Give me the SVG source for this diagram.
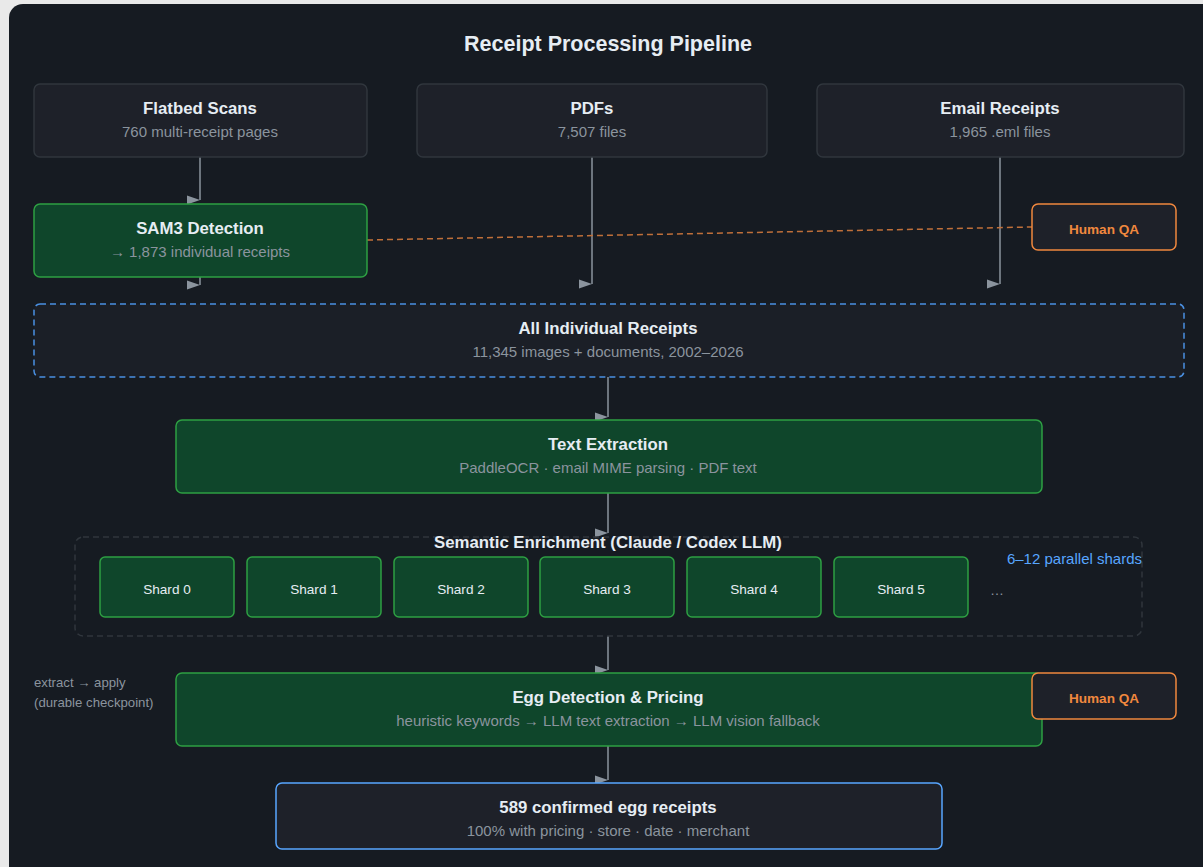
<svg xmlns="http://www.w3.org/2000/svg" width="1203" height="867" viewBox="0 0 1203 867">
<defs>
<style>
.t{font-family:"Liberation Sans",Arial,sans-serif;font-weight:bold;font-size:16.8px;fill:#e6edf3;text-anchor:middle}
.s{font-family:"Liberation Sans",Arial,sans-serif;font-size:15px;fill:#8b949e;text-anchor:middle}
.n{fill:#1e2129;stroke:#30363d;stroke-width:1.5}
.g{fill:#0f462b;stroke:#2ea043;stroke-width:1.5}
.qa{fill:#1e2129;stroke:#f0883e;stroke-width:1.5}
.qt{font-family:"Liberation Sans",Arial,sans-serif;font-weight:bold;font-size:13.6px;fill:#f0883e;text-anchor:middle}
.sh{font-family:"Liberation Sans",Arial,sans-serif;font-size:13.6px;fill:#e6edf3;text-anchor:middle}
.c{stroke:#8b949e;stroke-width:1.5;fill:none;marker-end:url(#ah)}
</style>
<marker id="ah" markerUnits="userSpaceOnUse" markerWidth="14" markerHeight="10" viewBox="0 0 14 10" refX="13" refY="5" orient="0">
<path d="M0,0.5 L13,5 L0,9.5 z" fill="#8b949e"/>
</marker>
</defs>
<rect x="0" y="0" width="1203" height="867" fill="#e9e9e9"/>
<rect x="9" y="4" width="1220" height="890" rx="14" fill="#161b22"/>
<text class="t" x="608" y="51" style="font-size:21.5px">Receipt Processing Pipeline</text>

<g id="connectors">
<line class="c" x1="200" y1="157" x2="200" y2="200"/>
<line class="c" x1="200" y1="277" x2="200" y2="285"/>
<line class="c" x1="592" y1="157" x2="592" y2="284"/>
<line class="c" x1="1000" y1="157" x2="1000" y2="284"/>
<line class="c" x1="608" y1="377" x2="608" y2="417"/>
<line class="c" x1="608" y1="493" x2="608" y2="533"/>
<line class="c" x1="608" y1="636" x2="608" y2="670"/>
<line class="c" x1="608" y1="746" x2="608" y2="780"/>
<line x1="367" y1="240" x2="1032" y2="227" stroke="#c0703a" stroke-width="1.5" stroke-dasharray="6,4"/>
<line x1="1034" y1="703" x2="1041" y2="710" stroke="#c0703a" stroke-width="1.5" stroke-dasharray="3,2"/>
</g>

<g id="flatbed">
<rect class="n" x="34" y="84" width="333" height="73" rx="6"/>
<text class="t" x="200" y="114">Flatbed Scans</text>
<text class="s" x="200" y="137">760 multi-receipt pages</text>
</g>
<g id="pdfs">
<rect class="n" x="417" y="84" width="350" height="73" rx="6"/>
<text class="t" x="592" y="114">PDFs</text>
<text class="s" x="592" y="137">7,507 files</text>
</g>
<g id="email">
<rect class="n" x="817" y="84" width="367" height="73" rx="6"/>
<text class="t" x="1000" y="114">Email Receipts</text>
<text class="s" x="1000" y="137">1,965 .eml files</text>
</g>
<g id="sam3">
<rect class="g" x="34" y="204" width="333" height="73" rx="6"/>
<text class="t" x="200" y="234">SAM3 Detection</text>
<text class="s" x="200" y="257">→ 1,873 individual receipts</text>
</g>
<g id="qa1">
<rect class="qa" x="1032" y="204" width="144" height="46" rx="6"/>
<text class="qt" x="1104" y="234">Human QA</text>
</g>
<g id="all">
<rect x="34" y="304" width="1150" height="73" rx="6" fill="#1b1f27" stroke="#4a90e2" stroke-width="1.5" stroke-dasharray="6,4"/>
<text class="t" x="608" y="334">All Individual Receipts</text>
<text class="s" x="608" y="357">11,345 images + documents, 2002–2026</text>
</g>
<g id="textext">
<rect class="g" x="176" y="420" width="866" height="73" rx="6"/>
<text class="t" x="608" y="450">Text Extraction</text>
<text class="s" x="608" y="473">PaddleOCR · email MIME parsing · PDF text</text>
</g>
<g id="semantic">
<rect x="75" y="537" width="1067" height="99" rx="8" fill="none" stroke="#30363d" stroke-width="1.5" stroke-dasharray="6,4"/>
<text class="t" x="608" y="548">Semantic Enrichment (Claude / Codex LLM)</text>
<text x="1142" y="564" style="font-family:'Liberation Sans',Arial,sans-serif;font-size:15px;fill:#58a6ff;text-anchor:end">6–12 parallel shards</text>
<text x="997" y="595" style="font-family:'Liberation Sans',Arial,sans-serif;font-size:14px;fill:#8b949e;text-anchor:middle">…</text>
</g>
<g id="shard0"><rect class="g" x="100" y="557" width="134" height="60" rx="5"/><text class="sh" x="167" y="594">Shard 0</text></g>
<g id="shard1"><rect class="g" x="247" y="557" width="134" height="60" rx="5"/><text class="sh" x="314" y="594">Shard 1</text></g>
<g id="shard2"><rect class="g" x="394" y="557" width="134" height="60" rx="5"/><text class="sh" x="461" y="594">Shard 2</text></g>
<g id="shard3"><rect class="g" x="540" y="557" width="134" height="60" rx="5"/><text class="sh" x="607" y="594">Shard 3</text></g>
<g id="shard4"><rect class="g" x="687" y="557" width="134" height="60" rx="5"/><text class="sh" x="754" y="594">Shard 4</text></g>
<g id="shard5"><rect class="g" x="834" y="557" width="134" height="60" rx="5"/><text class="sh" x="901" y="594">Shard 5</text></g>
<g id="note">
<text x="34" y="687" style="font-family:'Liberation Sans',Arial,sans-serif;font-size:13.2px;fill:#8b949e">extract → apply</text>
<text x="34" y="707" style="font-family:'Liberation Sans',Arial,sans-serif;font-size:13.2px;fill:#8b949e">(durable checkpoint)</text>
</g>
<g id="egg">
<rect class="g" x="176" y="673" width="866" height="73" rx="6"/>
<text class="t" x="608" y="703">Egg Detection &amp; Pricing</text>
<text class="s" x="608" y="726">heuristic keywords → LLM text extraction → LLM vision fallback</text>
</g>
<g id="qa2">
<rect class="qa" x="1032" y="673" width="144" height="46" rx="6"/>
<text class="qt" x="1104" y="703">Human QA</text>
</g>
<g id="final">
<rect x="276" y="783" width="666" height="66" rx="6" fill="#1e2129" stroke="#58a6ff" stroke-width="1.5"/>
<text class="t" x="608" y="813">589 confirmed egg receipts</text>
<text class="s" x="608" y="836">100% with pricing · store · date · merchant</text>
</g>
</svg>
